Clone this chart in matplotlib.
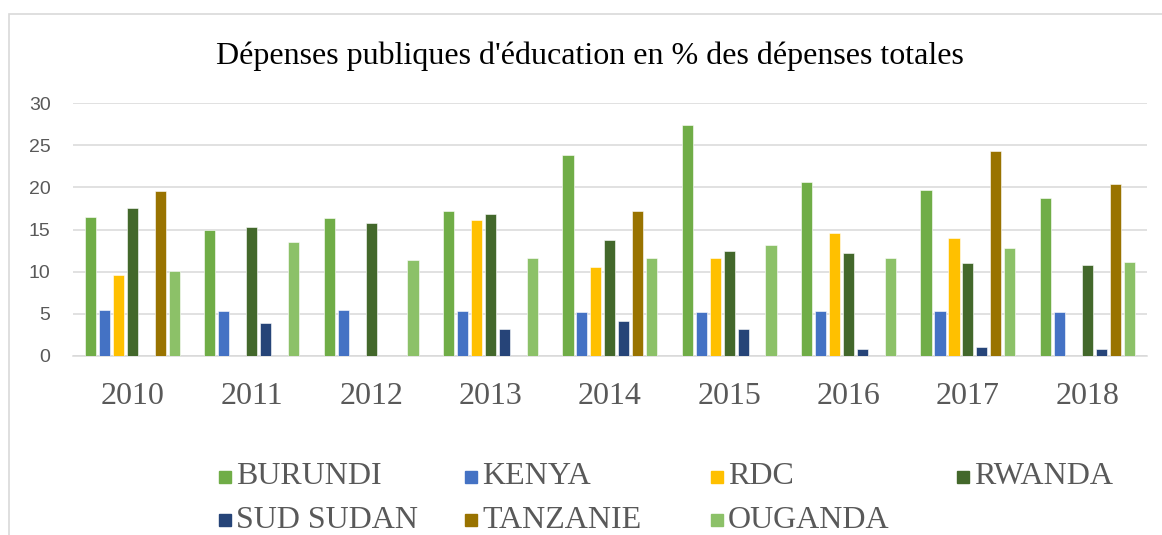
import matplotlib.pyplot as plt
import numpy as np
from matplotlib.patches import Rectangle

years = ['2010', '2011', '2012', '2013', '2014', '2015', '2016', '2017', '2018']
countries = ['BURUNDI', 'KENYA', 'RDC', 'RWANDA', 'SUD SUDAN', 'TANZANIE', 'OUGANDA']
colors = ['#70AD47', '#4472C4', '#FFC000', '#43682B', '#264478', '#997300', '#8CC168']

burundi = [16.5, 14.95, 16.4, 17.2, 23.8, 27.45, 20.7, 19.7, 18.75]
kenya = [5.45, 5.3, 5.45, 5.35, 5.2, 5.2, 5.3, 5.3, 5.25]
rdc = [9.55, None, None, 16.15, 10.5, 11.65, 14.55, 13.95, None]
rwanda = [17.5, 15.3, 15.8, 16.8, 13.7, 12.45, 12.25, 11.0, 10.8]
sud_sudan = [None, 3.95, None, 3.15, 4.1, 3.2, 0.8, 1.05, 0.8]
tanzanie = [19.6, None, None, None, 17.2, None, None, 24.35, 20.45]
ouganda = [10.05, 13.55, 11.4, 11.65, 11.6, 13.15, 11.65, 12.75, 11.2]

series = [burundi, kenya, rdc, rwanda, sud_sudan, tanzanie, ouganda]

plt.rcParams['font.family'] = ['Liberation Serif', 'DejaVu Serif']
fig = plt.figure(figsize=(11.62, 5.35), dpi=100)
ax = fig.add_axes([0.0626, 0.335, 0.9244, 0.472])

x = np.arange(len(years))
step = 0.117
for j, vals in enumerate(series):
    h = np.array([np.nan if v is None else v for v in vals], dtype=float)
    ax.bar(x + (j - 3) * step, h, width=0.094, color=colors[j], zorder=3,
           edgecolor='white', linewidth=0.4)

ax.set_xlim(-0.5, len(years) - 0.5)
ax.set_ylim(0, 30)
ax.set_yticks(range(0, 31, 5))
ax.set_xticks(x)
ax.set_xticklabels(years, fontsize=23, color='#595959')
ax.tick_params(axis='x', length=0, pad=19)
ax.tick_params(axis='y', length=0, pad=16, labelcolor='#595959')
for lab in ax.get_yticklabels():
    lab.set_fontfamily('Liberation Sans')
    lab.set_fontsize(14)
ax.grid(axis='y', color='#d9d9d9', linewidth=1.1, zorder=0)
for s in ['top', 'right', 'left']:
    ax.spines[s].set_visible(False)
ax.spines['bottom'].set_color('#d9d9d9')
ax.spines['bottom'].set_linewidth(1.1)

fig.text(0.508, 0.895, "Dépenses publiques d'éducation en % des dépenses totales",
         ha='center', va='center', fontsize=23, color='black')

# legend drawn by hand, Excel-like even columns
W, H = 1162, 535
for k, name in enumerate(countries):
    col, row = k % 4, k // 4
    px = 219 + 246 * col
    py = 477 + 43 * row
    fig.patches.append(Rectangle((px / W, 1 - (py + 6) / H), 12 / W, 12 / H,
                                 transform=fig.transFigure, color=colors[k]))
    fig.text((px + 17) / W, 1 - py / H, name, ha='left', va='center',
             fontsize=23, color='#595959')

# chart border
fig.patches.append(Rectangle((8.5 / W, -0.1), 2, 1.1 - 13.5 / H, transform=fig.transFigure,
                             fill=False, edgecolor='#d9d9d9', linewidth=1.2))

fig.savefig('out.png', dpi=100)
